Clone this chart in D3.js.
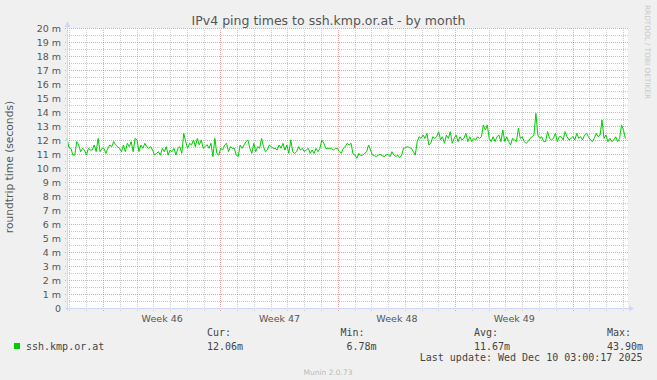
<!DOCTYPE html>
<html><head><meta charset="utf-8">
<script src="https://cdn.jsdelivr.net/npm/d3@7"></script>
<style>
html,body{margin:0;padding:0;background:#F0F0F0;}
svg{display:block;}
</style></head><body>
<svg id="chart" width="657" height="380"></svg>
<script>
// ---------- data ----------
const chartTitle = "IPv4 ping times to ssh.kmp.or.at - by month";
const yAxisTitle = "roundtrip time (seconds)";
const seriesName = "ssh.kmp.or.at";
const yTickValues = d3.range(0, 21);
const yTickLabels = yTickValues.map(v => v === 0 ? "0" : v + " m");
const weekStarts = [Date.UTC(2025,10,9), Date.UTC(2025,10,16), Date.UTC(2025,10,23), Date.UTC(2025,10,30), Date.UTC(2025,11,7)];
const weekLabels = ["Week 46", "Week 47", "Week 48", "Week 49"];
const timeStart = Date.UTC(2025,10,6,19,45);
const timeEnd = Date.UTC(2025,11,10,6,43);
const lastSample = Date.UTC(2025,11,10,3,0);

// roundtrip time in milliseconds in time order
const pingPart1 = [
12.15,11.49,11.44,10.96,10.96,11.92,11.68,11.20,11.44,11.32,
10.96,11.44,11.32,11.32,11.68,11.20,12.15,11.20,11.44,11.44,
11.08,11.44,11.68,11.56,11.92,11.68,11.56,11.44,11.20,11.68,
11.20,11.80,11.56,11.92,11.20,12.15,12.04,11.20,11.68,11.44,
11.80,11.56,11.44,11.56,11.32,10.96,11.08,11.20,10.96,11.44,
11.20,11.56,10.96,11.32,11.20,11.44,10.96,11.44,11.56,11.08,
12.51,11.92,11.44,11.80,11.68,12.04,11.56,12.15,11.68,12.04,
11.44,11.56];
const pingPart2 = [
11.70,
11.44,11.80,10.85,12.15,11.08,10.96,11.44,11.32,11.68,11.80,
11.20,11.56,11.44,11.44,10.96,10.85,11.68,11.44,11.68,11.92,
12.04,11.44,11.08,11.80,11.20,11.56,11.44,12.15,11.56,11.20,
11.32,11.68,11.56,11.44,11.44,11.32,11.68,11.44,11.80,11.32,
11.68,11.08,12.04,11.20,11.08,11.20,11.56,11.32,11.44,11.20,
11.32,11.44,11.08,11.32,11.08,11.44,11.20,11.44,12.04,11.80,
11.44,11.44,11.44,11.44,11.32,11.44,11.44,11.20,11.08,11.44,
11.56,11.80,11.68,11.80];
const pingPart3 = [
11.04,
10.96,10.73,11.08,10.92,10.96,11.08,11.20,11.68,11.32,10.96,
10.92,10.85,10.96,11.01,10.92,10.85,10.96,11.01,10.85,11.20,
10.96,10.85,10.96,10.77,10.96,11.44,11.49,11.56,11.49,11.44,
11.20,10.96,11.92,12.27,12.15,12.39,12.15,12.51,11.68,11.80,
12.27,12.15,12.27,12.63,12.04,12.27,11.80,12.39,12.15,12.63,
11.80,12.15,12.39,11.92,12.27,12.04,12.15,12.51,11.92,12.27,
11.92,12.15,12.04,12.27,12.15,12.27,13.11,12.75,13.11,12.15,
11.92];
const pingPart4 = [
12.27,
11.92,12.27,12.39,11.92,12.75,11.92,12.27,11.92,11.68,12.15,
12.04,11.92,12.87,12.15,12.27,11.92,11.80,11.92,12.15,12.27,
12.39,13.94,12.39,12.15,12.27,11.92,11.92,12.63,12.15,12.04,
12.15,12.51,11.92,12.27,12.27,12.04,12.63,12.27,12.04,12.15,
12.27,12.04,12.51,12.15,12.27,12.04,12.39,12.51,12.27,12.04,
11.92,12.15,12.51,12.27,12.39,13.46,12.15,12.39,11.92,12.15,
11.92,12.04,12.27,11.92,12.15,13.11,12.75,12.15];

const statLabels = ["Cur:", "Min:", "Avg:", "Max:"];
const statValues = ["12.06m", " 6.78m", "11.67m", "43.90m"];
const lastUpdateText = "Last update: Wed Dec 10 03:00:17 2025";
const footerText = "Munin 2.0.73";
const watermarkText = "RRDTOOL / TOBI OETIKER";

// ---------- drawing ----------
const svg = d3.select("#chart");
const X0 = 67, X1 = 628, Y0 = 308.5, Y1 = 28.5;
const x = d3.scaleUtc().domain([timeStart, timeEnd]).range([X0, X1]);
const y = d3.scaleLinear().domain([0, 20]).range([Y0, Y1]);
const crisp = v => Math.round(v - 0.5) + 0.5;

const values = [].concat(pingPart1, pingPart2, pingPart3, pingPart4);
const step = (lastSample - timeStart) / (values.length - 1);
const series = values.map((v, i) => ({t: timeStart + i * step, v}));

svg.append("rect").attr("x", 0).attr("y", 0).attr("width", 657).attr("height", 380).attr("fill", "#F0F0F0");
svg.append("rect").attr("x", X0).attr("y", Y1).attr("width", X1 - X0).attr("height", Y0 - Y1).attr("fill", "#FFFFFF");

const minorCol = "rgba(143,143,143,0.45)";
const majorCol = "rgba(222,79,79,0.5)";
const grid = svg.append("g").attr("shape-rendering", "crispEdges").attr("stroke-dasharray", "1,1");

// minor horizontal
grid.selectAll(".hmin").data(d3.range(0.5, 20, 1)).join("line")
  .attr("x1", X0 - 2).attr("x2", X1 + 1)
  .attr("y1", d => crisp(y(d))).attr("y2", d => crisp(y(d)))
  .attr("stroke", minorCol);
// minor vertical (days)
const weekSet = new Set(weekStarts);
const days = d3.utcDay.range(timeStart, timeEnd).filter(d => !weekSet.has(+d));
grid.selectAll(".vmin").data(days).join("line")
  .attr("x1", d => crisp(x(d))).attr("x2", d => crisp(x(d)))
  .attr("y1", Y0 + 2).attr("y2", Y1)
  .attr("stroke", minorCol);
// major horizontal
grid.selectAll(".hmaj").data(yTickValues.slice(1)).join("line")
  .attr("x1", X0 - 2).attr("x2", X1 + 1)
  .attr("y1", d => crisp(y(d))).attr("y2", d => crisp(y(d)))
  .attr("stroke", majorCol);
// major vertical (weeks)
grid.selectAll(".vmaj").data(weekStarts).join("line")
  .attr("x1", d => crisp(x(d))).attr("x2", d => crisp(x(d)))
  .attr("y1", Y0 + 2).attr("y2", Y1)
  .attr("stroke", majorCol);

// data line
svg.append("path").datum(series)
  .attr("fill", "none").attr("stroke", "#00CC00").attr("stroke-width", 1)
  .attr("d", d3.line().x(d => x(d.t)).y(d => y(d.v)));

// axes
const axisCol = "#CFD6F8";
svg.append("line").attr("x1", X0 - 2).attr("x2", X1 + 1).attr("y1", Y0).attr("y2", Y0)
  .attr("stroke", axisCol).attr("shape-rendering", "crispEdges");
svg.append("line").attr("x1", X0 + 0.5).attr("x2", X0 + 0.5).attr("y1", Y0 + 2).attr("y2", Y1 - 2)
  .attr("stroke", axisCol).attr("shape-rendering", "crispEdges");
svg.append("path").attr("d", `M${X0 - 2.5},${Y1 - 1.5}L${X0 + 3.5},${Y1 - 1.5}L${X0 + 0.5},${Y1 - 7.5}Z`).attr("fill", axisCol);
svg.append("path").attr("d", `M${X1 + 1},${Y0 - 3}L${X1 + 1},${Y0 + 3}L${X1 + 6},${Y0}Z`).attr("fill", axisCol);

const font = "'DejaVu Sans', sans-serif";
const mono = "'DejaVu Sans Mono', monospace";
const textCol = "#555555";

// y tick labels
svg.append("g").selectAll("text").data(yTickValues).join("text")
  .attr("x", 61).attr("y", d => y(d) + 3.5)
  .attr("text-anchor", "end").attr("font-family", font).attr("font-size", 9.5).attr("fill", textCol)
  .text((d, i) => yTickLabels[i]);

// x labels (centered in each week)
svg.append("g").selectAll("text").data(weekLabels).join("text")
  .attr("x", (d, i) => x((weekStarts[i] + weekStarts[i + 1]) / 2))
  .attr("y", 322)
  .attr("text-anchor", "middle").attr("font-family", font).attr("font-size", 9.5).attr("fill", textCol)
  .text(d => d);

// title
svg.append("text").attr("x", 328.5).attr("y", 24.5).attr("text-anchor", "middle")
  .attr("font-family", font).attr("font-size", 12.5).attr("fill", textCol).text(chartTitle);

// y axis title
svg.append("text").attr("transform", "translate(13,167) rotate(-90)").attr("text-anchor", "middle")
  .attr("font-family", font).attr("font-size", 10.7).attr("fill", textCol).text(yAxisTitle);

// watermark
svg.append("text").attr("transform", "translate(644.5,5) rotate(90)")
  .attr("font-family", font).attr("font-size", 7.3).attr("fill", "#C8C8C8").text(watermarkText);

// legend
const legendCol = "#444444";
svg.append("rect").attr("x", 14).attr("y", 343).attr("width", 6).attr("height", 6).attr("fill", "#00CC00");
svg.append("text").attr("x", 26).attr("y", 349.5).attr("font-family", mono).attr("font-size", 10)
  .attr("fill", legendCol).text(seriesName);
const statX = [207, 340.5, 474, 607];
const lg = svg.append("g").attr("font-family", mono).attr("font-size", 10).attr("fill", legendCol);
lg.selectAll(".sl").data(statLabels).join("text").attr("x", (d, i) => statX[i]).attr("y", 336)
  .attr("xml:space", "preserve").style("white-space", "pre").text(d => d);
lg.selectAll(".sv").data(statValues).join("text").attr("x", (d, i) => statX[i]).attr("y", 349.5)
  .attr("xml:space", "preserve").style("white-space", "pre").text(d => d);
lg.append("text").attr("x", 642.5).attr("y", 360.5).attr("text-anchor", "end").text(lastUpdateText);

// footer
svg.append("text").attr("x", 328).attr("y", 375).attr("text-anchor", "middle")
  .attr("font-family", font).attr("font-size", 7.5).attr("fill", "#BBBBBB").text(footerText);
</script>
</body></html>
